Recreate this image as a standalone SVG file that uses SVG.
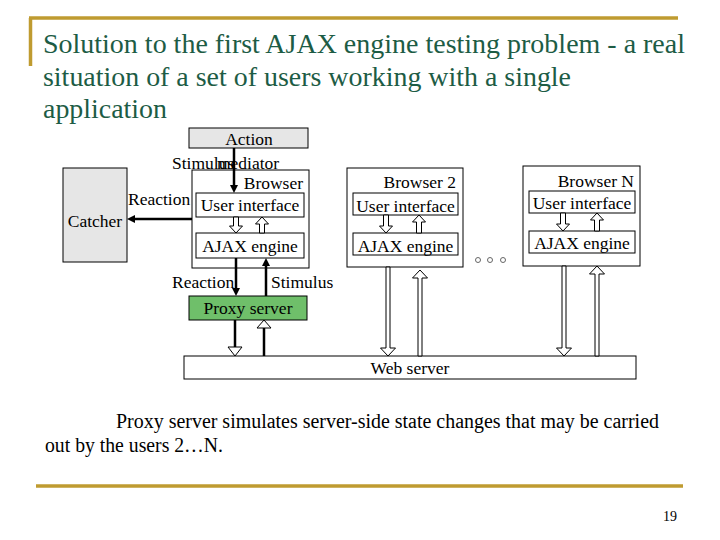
<svg xmlns="http://www.w3.org/2000/svg" width="720" height="540" viewBox="0 0 720 540">
<style>
.title{font-family:"Liberation Serif","Times New Roman",serif;font-size:28px;fill:#1d5c45}
.lbl{font-family:"Liberation Serif","Times New Roman",serif;font-size:17.5px;fill:#000}
.body{font-family:"Liberation Serif","Times New Roman",serif;font-size:20px;fill:#000}
.box{fill:#fff;stroke:#000;stroke-width:1}
.gray{fill:#e6e6e6;stroke:#000;stroke-width:1}
.green{fill:#6fbf6a;stroke:#000;stroke-width:1}
.gold{stroke:#bf9b30;stroke-width:3.5;fill:none}
.blk{stroke:#000;stroke-width:2.5;fill:none}
.hol{fill:#fff;stroke:#000;stroke-width:1}
.dot{fill:#fff;stroke:#666;stroke-width:1}
</style>
<defs>
<marker id="ah" markerWidth="8" markerHeight="8" refX="2" refY="4" orient="auto" markerUnits="userSpaceOnUse">
<path d="M0,0 L8,4 L0,8 z" fill="#000"/>
</marker>
</defs>
<rect width="720" height="540" fill="#fff"/>
<g id="frame">
<path class="gold" d="M29,18 L678,18"/>
<path class="gold" d="M30.5,18 L30.5,66"/>
<path class="gold" d="M36,486 L683,486"/>
</g>
<g id="title">
<text class="title" x="43" y="53" textLength="642" lengthAdjust="spacingAndGlyphs">Solution to the first AJAX engine testing problem - a real</text>
<text class="title" x="43" y="86" textLength="528" lengthAdjust="spacingAndGlyphs">situation of a set of users working with a single</text>
<text class="title" x="43" y="118" textLength="124" lengthAdjust="spacingAndGlyphs">application</text>
</g>
<g id="action">
<rect class="gray" x="189" y="128" width="119" height="20"/>
<text class="lbl" x="249" y="145" text-anchor="middle">Action</text>
<text class="lbl" x="248" y="169" text-anchor="middle">mediator</text>
</g>
<g id="catcher">
<rect class="gray" x="63" y="168" width="64" height="94"/>
<text class="lbl" x="95" y="227" text-anchor="middle">Catcher</text>
</g>
<g id="browser1">
<rect class="box" x="192" y="170" width="117" height="98"/>
<text class="lbl" x="303" y="189" text-anchor="end">Browser</text>
<rect class="box" x="196" y="193" width="108" height="24"/>
<text class="lbl" x="250" y="211" text-anchor="middle">User interface</text>
<rect class="box" x="196" y="233" width="108" height="25"/>
<text class="lbl" x="250" y="252" text-anchor="middle">AJAX engine</text>
</g>
<g id="browser2">
<rect class="box" x="347" y="168" width="116" height="99"/>
<text class="lbl" x="456" y="188" text-anchor="end">Browser 2</text>
<rect class="box" x="353" y="193" width="105" height="22"/>
<text class="lbl" x="405.5" y="212" text-anchor="middle">User interface</text>
<rect class="box" x="353" y="233" width="105" height="22"/>
<text class="lbl" x="405.5" y="252" text-anchor="middle">AJAX engine</text>
</g>
<g id="browserN">
<rect class="box" x="523" y="166" width="117" height="100"/>
<text class="lbl" x="634" y="187" text-anchor="end">Browser N</text>
<rect class="box" x="529" y="191" width="106" height="22"/>
<text class="lbl" x="582" y="209" text-anchor="middle">User interface</text>
<rect class="box" x="529" y="231" width="106" height="22"/>
<text class="lbl" x="582" y="249" text-anchor="middle">AJAX engine</text>
</g>
<g id="dots">
<circle class="dot" cx="478" cy="260" r="2.5"/>
<circle class="dot" cx="490" cy="260" r="2.5"/>
<circle class="dot" cx="503" cy="260" r="2.5"/>
</g>
<g id="proxy">
<rect class="green" x="189" y="296" width="118" height="24"/>
<text class="lbl" x="248" y="314" text-anchor="middle">Proxy server</text>
</g>
<g id="webserver">
<rect class="box" x="184" y="356" width="452" height="23"/>
<text class="lbl" x="410" y="374" text-anchor="middle">Web server</text>
</g>
<g id="connectors">
<line class="blk" x1="234" y1="148" x2="234" y2="187" marker-end="url(#ah)"/>
<line class="blk" x1="192" y1="219" x2="133" y2="219" marker-end="url(#ah)"/>
<line class="blk" x1="236" y1="258" x2="236" y2="290" marker-end="url(#ah)"/>
<line class="blk" x1="266" y1="296" x2="266" y2="264" marker-end="url(#ah)"/>
<path class="hol" d="M233.5,217 L238.5,217 L238.5,226 L242.5,226 L236,233 L229.5,226 L233.5,226 Z"/>
<path class="hol" d="M259.5,233 L264.5,233 L264.5,224 L268.5,224 L262,217 L255.5,224 L259.5,224 Z"/>
<path class="hol" d="M383.5,215 L388.5,215 L388.5,226 L392.5,226 L386,233 L379.5,226 L383.5,226 Z"/>
<path class="hol" d="M416.5,233 L421.5,233 L421.5,222 L425.5,222 L419,215 L412.5,222 L416.5,222 Z"/>
<path class="hol" d="M560.5,213 L565.5,213 L565.5,224 L569.5,224 L563,231 L556.5,224 L560.5,224 Z"/>
<path class="hol" d="M594.5,231 L599.5,231 L599.5,220 L603.5,220 L597,213 L590.5,220 L594.5,220 Z"/>
<path class="hol" d="M386,267 L390,267 L390,348 L395.5,348 L388,356 L380.5,348 L386,348 Z"/>
<path class="hol" d="M418,356 L422,356 L422,278 L427.5,278 L420,270 L412.5,278 L418,278 Z"/>
<path class="hol" d="M562,266 L566,266 L566,348 L571.5,348 L564,356 L556.5,348 L562,348 Z"/>
<path class="hol" d="M595,356 L599,356 L599,274 L604.5,274 L597,266 L589.5,274 L595,274 Z"/>
<line class="blk" x1="235" y1="320" x2="235" y2="348"/>
<path class="hol" d="M228,347 L242,347 L235,356 Z"/>
<line class="blk" x1="264" y1="356" x2="264" y2="328"/>
<path class="hol" d="M257,328 L271,328 L264,320 Z"/>
<text class="lbl" x="172" y="169">Stimulus</text>
<text class="lbl" x="128" y="205">Reaction</text>
<text class="lbl" x="172" y="288">Reaction</text>
<text class="lbl" x="271" y="288">Stimulus</text>
</g>
<g id="caption">
<text class="body" x="116" y="428" textLength="543" lengthAdjust="spacingAndGlyphs">Proxy server simulates server-side state changes that may be carried</text>
<text class="body" x="45" y="452" textLength="178" lengthAdjust="spacingAndGlyphs">out by the users 2…N.</text>
<text class="lbl" x="677" y="521" text-anchor="end" style="font-size:14px">19</text>
</g>
</svg>
